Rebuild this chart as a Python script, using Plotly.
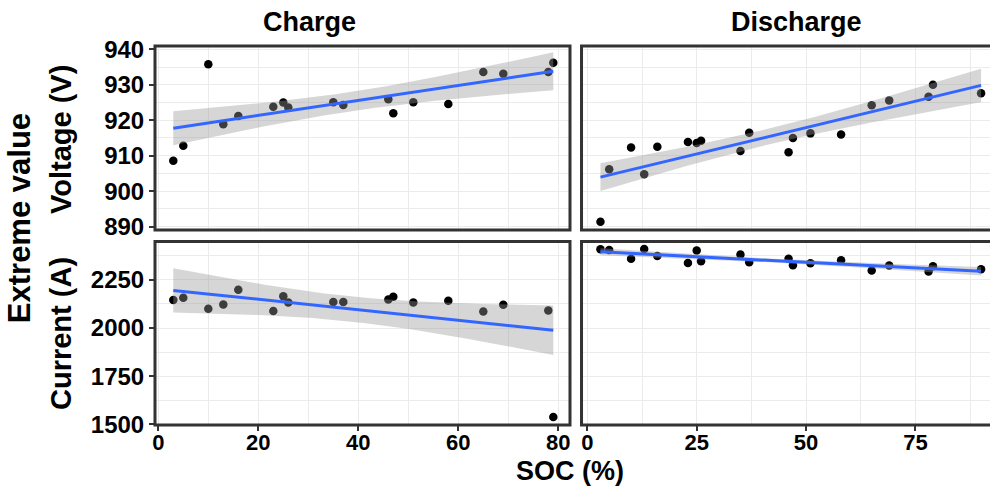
import numpy as np
import plotly.graph_objects as go

# ---------------- data ----------------
soc_charge = [3, 5, 10, 13, 16, 23, 25, 26, 35, 37, 46, 47, 51, 58, 65, 69, 78, 79]
volt_charge = [908.6, 912.8, 935.8, 918.9, 921.2, 923.8, 925.0, 923.6, 925.1, 924.3,
               925.9, 922.0, 925.1, 924.6, 933.6, 933.1, 933.6, 936.2]
curr_charge = [2146, 2157, 2100, 2122, 2198, 2088, 2165, 2133, 2135, 2135,
               2148, 2162, 2133, 2141, 2086, 2121, 2091, 1538]

soc_dis = [3, 5, 10, 13, 16, 23, 25, 26, 35, 37, 46, 47, 51, 58, 65, 69, 78, 79, 90]
volt_dis = [891.4, 906.2, 912.3, 904.8, 912.5, 913.9, 913.6, 914.2, 911.3, 916.5,
            911.0, 915.0, 916.3, 916.0, 924.2, 925.6, 926.6, 930.0, 927.6]
curr_dis = [2409, 2405, 2359, 2410, 2374, 2338, 2402, 2347, 2381, 2341,
            2360, 2326, 2336, 2352, 2298, 2324, 2293, 2321, 2305]

panel_titles = ["Charge", "Discharge"]
row_titles = ["Voltage (V)", "Current (A)"]

T95 = {16: 2.119905, 17: 2.109816}


def lm_fit(x, y):
    x = np.asarray(x, float)
    y = np.asarray(y, float)
    n = len(x)
    b, a = np.polyfit(x, y, 1)
    xs = np.linspace(x.min(), x.max(), 80)
    yhat = a + b * xs
    resid = y - (a + b * x)
    s = np.sqrt(np.sum(resid ** 2) / (n - 2))
    sxx = np.sum((x - x.mean()) ** 2)
    se = s * np.sqrt(1.0 / n + (xs - x.mean()) ** 2 / sxx)
    t = T95[n - 2]
    return xs, yhat, yhat - t * se, yhat + t * se


fig = go.Figure()

panels = [
    (soc_charge, volt_charge, "x", "y"),
    (soc_dis, volt_dis, "x2", "y2"),
    (soc_charge, curr_charge, "x3", "y3"),
    (soc_dis, curr_dis, "x4", "y4"),
]

for xv, yv, xa, ya in panels:
    fig.add_trace(go.Scatter(x=xv, y=yv, mode="markers", xaxis=xa, yaxis=ya,
                             marker=dict(color="black", size=8.5), showlegend=False))
    xs, yhat, lo, hi = lm_fit(xv, yv)
    fig.add_trace(go.Scatter(x=xs, y=lo, mode="lines", line=dict(width=0),
                             xaxis=xa, yaxis=ya, showlegend=False, hoverinfo="skip"))
    fig.add_trace(go.Scatter(x=xs, y=hi, mode="lines", line=dict(width=0),
                             fill="tonexty", fillcolor="rgba(153,153,153,0.4)",
                             xaxis=xa, yaxis=ya, showlegend=False, hoverinfo="skip"))
    fig.add_trace(go.Scatter(x=xs, y=yhat, mode="lines", line=dict(color="#3366FF", width=3),
                             xaxis=xa, yaxis=ya, showlegend=False))

FONT = "Liberation Sans, Arial, sans-serif"
ytickfont = dict(family=FONT, size=24, color="black", weight="bold")
xtickfont = dict(family=FONT, size=22, color="black", weight="bold")
GRID = "#EBEBEB"

xl_dom = [0, 0.497]
xr_dom = [0.5108, 1.0]
yt_dom = [0.5145, 1.0]
yb_dom = [0.0, 0.4842]


def xax(dom, rng, dtick, show, anchor):
    return dict(domain=dom, range=rng, anchor=anchor, tick0=0, dtick=dtick,
                showgrid=True, gridcolor=GRID, gridwidth=1.3, zeroline=False,
                showline=False, showticklabels=show, ticks="outside" if show else "",
                ticklen=5, tickwidth=1.5, tickcolor="#333333", tickfont=xtickfont,
                ticklabelstandoff=-7,
                minor=dict(tick0=0, dtick=dtick / 2, showgrid=True, gridcolor=GRID, gridwidth=0.7))


def yax(dom, rng, tick0, dtick, show, anchor):
    return dict(domain=dom, range=rng, anchor=anchor, tick0=tick0, dtick=dtick,
                showgrid=True, gridcolor=GRID, gridwidth=1.3, zeroline=False,
                showline=False, showticklabels=show, ticks="outside" if show else "",
                ticklen=5, tickwidth=1.5, tickcolor="#333333", tickfont=ytickfont,
                minor=dict(tick0=tick0, dtick=dtick / 2, showgrid=True, gridcolor=GRID, gridwidth=0.7))


xl_rng = [-0.66, 82.34]
xr_rng = [-1.33, 92.04]
yt_rng = [889.06, 940.93]
yb_rng = [1497, 2449]

fig.update_layout(
    width=990, height=489,
    margin=dict(l=155, r=0, t=46, b=64),
    paper_bgcolor="white", plot_bgcolor="white",
    xaxis=xax(xl_dom, xl_rng, 20, False, "y"),
    xaxis2=xax(xr_dom, xr_rng, 25, False, "y2"),
    xaxis3=xax(xl_dom, xl_rng, 20, True, "y3"),
    xaxis4=xax(xr_dom, xr_rng, 25, True, "y4"),
    yaxis=yax(yt_dom, yt_rng, 890, 10, True, "x"),
    yaxis2=yax(yt_dom, yt_rng, 890, 10, False, "x2"),
    yaxis3=yax(yb_dom, yb_rng, 1500, 250, True, "x3"),
    yaxis4=yax(yb_dom, yb_rng, 1500, 250, False, "x4"),
)

# panel borders
for x0, x1 in (xl_dom, (xr_dom[0], 1.05)):
    for y0, y1 in (yt_dom, yb_dom):
        fig.add_shape(type="rect", xref="paper", yref="paper", x0=x0, x1=x1, y0=y0, y1=y1,
                      line=dict(color="#333333", width=3), fillcolor="rgba(0,0,0,0)", layer="above")


def tfont(size):
    return dict(family=FONT, size=size, color="black", weight="bold")


ann = [
    dict(text=panel_titles[0], x=0.1856, y=1.063, textangle=0, font=tfont(27)),
    dict(text=panel_titles[1], x=0.7677, y=1.063, textangle=0, font=tfont(27)),
    dict(text=row_titles[0], x=-0.1126, y=0.7546, textangle=-90, font=tfont(29)),
    dict(text=row_titles[1], x=-0.1126, y=0.2427, textangle=-90, font=tfont(29)),
    dict(text="Extreme value", x=-0.162, y=0.545, textangle=-90, font=tfont(31)),
    dict(text="SOC (%)", x=0.497, y=-0.1205, textangle=0, font=tfont(27)),
]
for a in ann:
    fig.add_annotation(xref="paper", yref="paper", showarrow=False, xanchor="center",
                       yanchor="middle", **a)

fig.write_html("out.html",
               config={"displayModeBar": False},
               post_script="document.body.style.margin='0';document.body.style.padding='0';"
                           "document.body.style.overflow='hidden';")
